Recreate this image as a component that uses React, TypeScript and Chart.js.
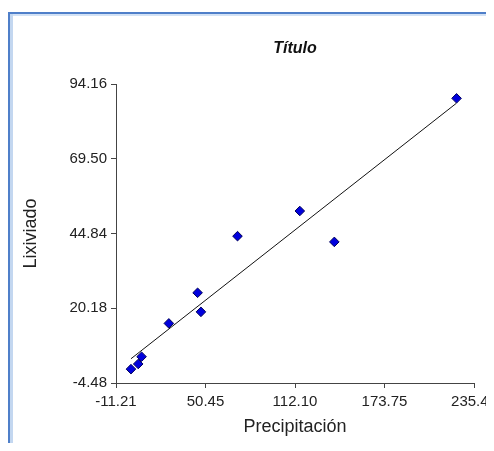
import { useEffect, useRef } from "react";
import { Chart, registerables } from "chart.js";

Chart.register(...registerables);

// Data
const precipitacion = [-0.9, 4.1, 6.4, 25.2, 45.0, 47.3, 72.5, 115.4, 139.2, 223.4];
const lixiviado = [0.1, 1.8, 4.2, 15.2, 25.3, 19.0, 44.0, 52.3, 42.1, 89.5];

const xTickValues = [-11.21, 50.45, 112.1, 173.75, 235.41];
const yTickValues = [-4.48, 20.18, 44.84, 69.5, 94.16];

const chartTitle = "Título";
const xAxisTitle = "Precipitación";
const yAxisTitle = "Lixiviado";

const FONT = '"Liberation Sans", Arial, sans-serif';

function leastSquares(xs: number[], ys: number[]) {
  const n = xs.length;
  const mx = xs.reduce((a, b) => a + b, 0) / n;
  const my = ys.reduce((a, b) => a + b, 0) / n;
  let sxy = 0;
  let sxx = 0;
  for (let i = 0; i < n; i++) {
    sxy += (xs[i] - mx) * (ys[i] - my);
    sxx += (xs[i] - mx) * (xs[i] - mx);
  }
  const slope = sxy / sxx;
  const intercept = my - slope * mx;
  return { slope, intercept };
}

export default function App() {
  const canvasRef = useRef<HTMLCanvasElement | null>(null);

  useEffect(() => {
    if (!canvasRef.current) return;
    const points = precipitacion.map((x, i) => ({ x, y: lixiviado[i] }));
    const { slope, intercept } = leastSquares(precipitacion, lixiviado);
    const xMin = Math.min(...precipitacion);
    const xMax = Math.max(...precipitacion);
    const linePts = [
      { x: xMin, y: intercept + slope * xMin },
      { x: xMax, y: intercept + slope * xMax },
    ];

    const chart = new Chart(canvasRef.current, {
      type: "scatter",
      data: {
        datasets: [
          {
            type: "line",
            data: linePts,
            borderColor: "#111111",
            borderWidth: 1,
            pointRadius: 0,
            fill: false,
            order: 2,
          },
          {
            type: "scatter",
            data: points,
            pointStyle: "rectRot",
            pointRadius: 4.8,
            backgroundColor: "#0000dd",
            borderColor: "#00005a",
            borderWidth: 1,
            order: 1,
          },
        ],
      },
      options: {
        responsive: false,
        animation: false,
        layout: { padding: { left: 0, right: 20, top: 0, bottom: 0 } },
        plugins: {
          legend: { display: false },
          tooltip: { enabled: false },
          title: {
            display: true,
            text: chartTitle,
            fullSize: false,
            color: "#111111",
            font: { family: FONT, size: 16, style: "italic", weight: "bold" },
            padding: { top: 39, bottom: 26 },
          },
        },
        scales: {
          x: {
            type: "linear",
            min: xTickValues[0],
            max: xTickValues[xTickValues.length - 1],
            afterBuildTicks: (scale: any) => {
              scale.ticks = xTickValues.map((v) => ({ value: v }));
            },
            afterFit: (scale: any) => {
              scale.height = 68;
              scale.paddingLeft = 0;
              scale.paddingRight = 0;
            },
            ticks: {
              autoSkip: false,
              maxRotation: 0,
              padding: 5,
              color: "#222222",
              font: { family: FONT, size: 15 },
              callback: (v: any) => Number(v).toFixed(2),
            },
            grid: {
              drawOnChartArea: false,
              drawTicks: true,
              tickLength: 5,
              color: "#444444",
            },
            border: { display: true, color: "#444444", width: 1 },
            title: {
              display: true,
              text: xAxisTitle,
              color: "#222222",
              font: { family: FONT, size: 18 },
              padding: { top: 0, bottom: 13 },
            },
          },
          y: {
            type: "linear",
            min: yTickValues[0],
            max: yTickValues[yTickValues.length - 1],
            afterBuildTicks: (scale: any) => {
              scale.ticks = yTickValues.map((v) => ({ value: v }));
            },
            afterFit: (scale: any) => {
              scale.width = 116;
              scale.paddingTop = 0;
              scale.paddingBottom = 0;
            },
            ticks: {
              autoSkip: false,
              padding: 4,
              color: "#222222",
              font: { family: FONT, size: 15 },
              callback: (v: any) => Number(v).toFixed(2),
            },
            grid: {
              drawOnChartArea: false,
              drawTicks: true,
              tickLength: 5,
              color: "#444444",
            },
            border: { display: true, color: "#444444", width: 1 },
            title: {
              display: true,
              text: yAxisTitle,
              color: "#222222",
              font: { family: FONT, size: 18 },
              padding: { top: 20, bottom: 0 },
            },
          },
        },
      },
    } as any);

    return () => chart.destroy();
  }, []);

  return (
    <div style={{ position: "relative", width: 494, height: 451, margin: -8, overflow: "hidden", background: "#ffffff" }}>
      <canvas ref={canvasRef} width={494} height={451} style={{ position: "absolute", left: 0, top: 0, display: "block" }} />
      <div style={{ position: "absolute", left: 8, top: 12, width: 486, height: 2, background: "#4f7fc9", pointerEvents: "none" }} />
      <div style={{ position: "absolute", left: 10, top: 14, width: 484, height: 2, background: "#d3e2f5", pointerEvents: "none" }} />
      <div style={{ position: "absolute", left: 8, top: 12, width: 2, height: 439, background: "#4f7fc9", pointerEvents: "none" }} />
      <div style={{ position: "absolute", left: 10, top: 14, width: 3, height: 437, background: "#c3d7f0", pointerEvents: "none" }} />
    </div>
  );
}
